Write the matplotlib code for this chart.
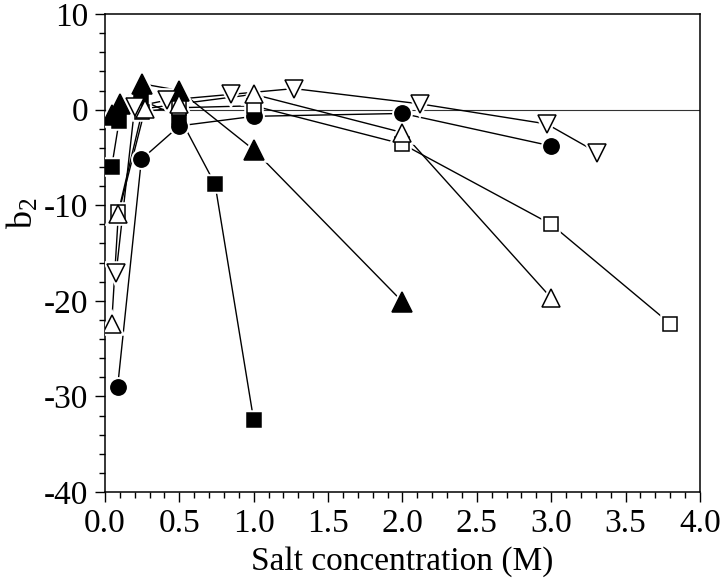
import numpy as np
import matplotlib
matplotlib.use('Agg')
import matplotlib.pyplot as plt
from matplotlib.ticker import MultipleLocator, FormatStrFormatter

plt.rcParams['font.family'] = ['Liberation Serif', 'DejaVu Serif']
plt.rcParams['mathtext.fontset'] = 'custom'
plt.rcParams['mathtext.rm'] = 'Liberation Serif'
plt.rcParams['mathtext.it'] = 'Liberation Serif'
plt.rcParams['axes.unicode_minus'] = False

# filled squares
x_fsq = [0.045, 0.095, 0.245, 0.5, 0.74, 1.0]
y_fsq = [-6.0, -1.2, 1.0, -0.75, -7.8, -32.5]
# filled circles
x_fci = [0.085, 0.245, 0.5, 1.0, 2.0, 3.0]
y_fci = [-29.0, -5.2, -1.7, -0.7, -0.4, -3.8]
# filled triangles
x_ftr = [0.045, 0.1, 0.25, 0.5, 1.0, 2.0]
y_ftr = [-0.6, 0.6, 2.7, 2.0, -4.2, -20.1]
# open squares
x_osq = [0.09, 0.25, 0.5, 1.0, 2.0, 3.0, 3.8]
y_osq = [-10.7, -0.2, 0.2, 0.4, -3.6, -12.0, -22.4]
# open triangles
x_otr = [0.045, 0.09, 0.27, 0.5, 1.0, 2.0, 3.0]
y_otr = [-22.4, -10.9, 0.1, 0.6, 1.6, -2.4, -19.7]
# open down triangles
x_odt = [0.075, 0.2, 0.42, 0.85, 1.27, 2.12, 2.97, 3.31]
y_odt = [-17.1, 0.3, 1.0, 1.6, 2.2, 0.6, -1.5, -4.5]

series = [
    (x_fsq, y_fsq, 's', 'black', 10),
    (x_fci, y_fci, 'o', 'black', 11),
    (x_ftr, y_ftr, '^', 'black', 14),
    (x_osq, y_osq, 's', 'white', 10),
    (x_otr, y_otr, '^', 'white', 13),
    (x_odt, y_odt, 'v', 'white', 13),
]

fig = plt.figure(figsize=(7.2, 5.82), dpi=100)
ax = fig.add_axes([0.1458, 0.1546, 0.8264, 0.8213])

ax.axhline(0, color='#333333', lw=0.8, zorder=1)

for x, y, m, fc, ms in series:
    ax.plot(x, y, '-', color='black', lw=1.0, zorder=2)
for x, y, m, fc, ms in series:
    # white halo so lines stop short of markers
    ax.plot(x, y, m, ms=ms, mfc='white', mec='white', mew=4, ls='none', zorder=3)
for x, y, m, fc, ms in series:
    ax.plot(x, y, m, ms=ms, mfc=fc, mec='black', mew=1.1, ls='none', zorder=4)

ax.set_xlim(0, 4.0)
ax.set_ylim(-40, 10)
ax.xaxis.set_major_locator(MultipleLocator(0.5))
ax.xaxis.set_minor_locator(MultipleLocator(0.1))
ax.yaxis.set_major_locator(MultipleLocator(10))
ax.yaxis.set_minor_locator(MultipleLocator(2))
ax.xaxis.set_major_formatter(FormatStrFormatter('%.1f'))

ax.tick_params(which='both', direction='out', top=False, right=False,
               width=1.0, labelsize=24)
ax.tick_params(which='major', length=7, pad=5)
ax.tick_params(which='minor', length=4)
for s in ax.spines.values():
    s.set_linewidth(1.1)

ax.set_xlabel('Salt concentration (M)', fontsize=24, labelpad=5)
ax.set_ylabel(r'$\mathrm{b}_2$', fontsize=26)
ax.yaxis.set_label_coords(-0.108, 0.584)

fig.savefig('out.png', dpi=100)
